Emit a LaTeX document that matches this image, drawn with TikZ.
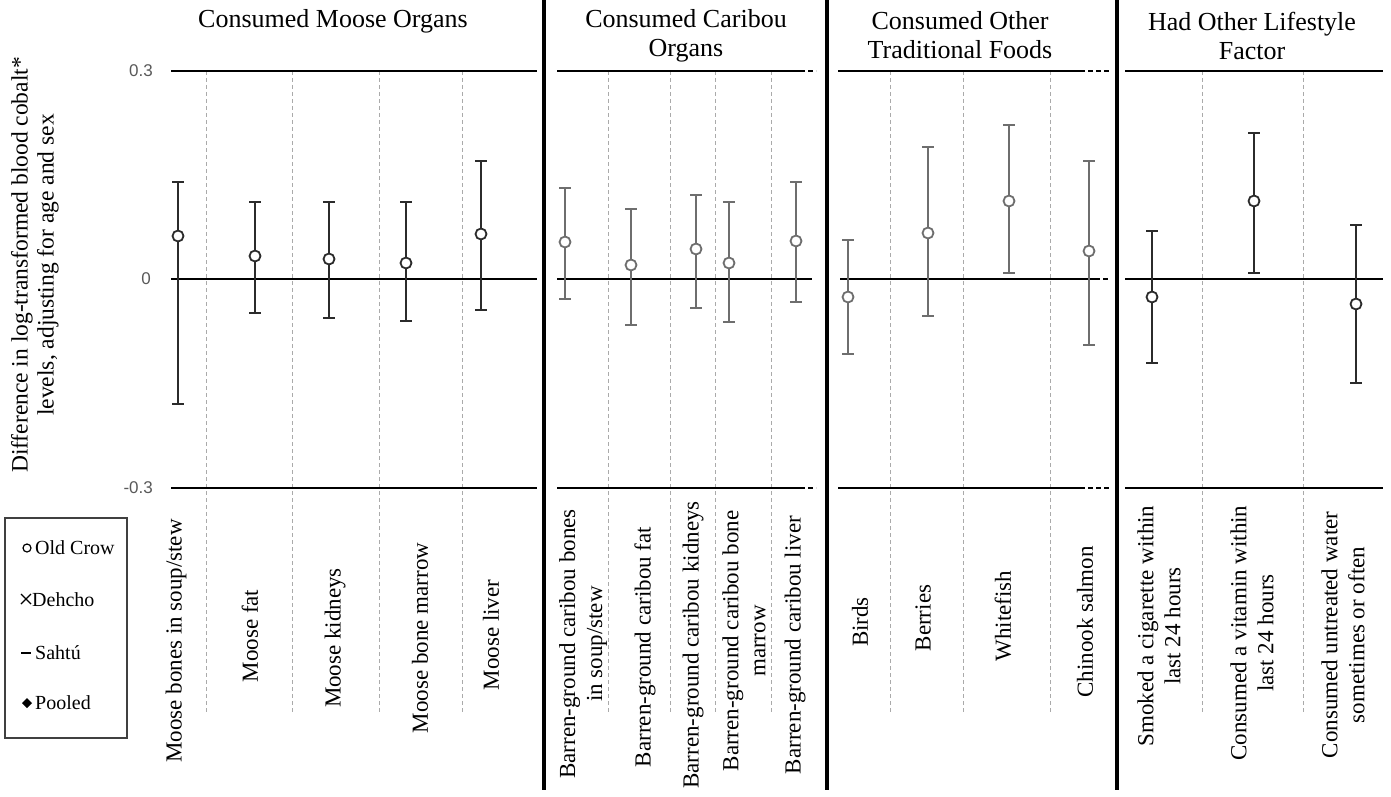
\documentclass[tikz,border=0pt]{standalone}
\usepackage{fontspec}
\setmainfont{Liberation Serif}
\newfontfamily\axisfont{Liberation Sans}
\definecolor{darkbar}{HTML}{2B2B2B}
\definecolor{graybar}{HTML}{6E6E6E}
\definecolor{ticktext}{HTML}{595959}
\definecolor{gridgray}{HTML}{AAAAAA}
\tikzset{
  hline/.style={black, line width=1.6pt},
  hdash/.style={black, line width=1.6pt, dash pattern=on 5pt off 3pt},
  sepline/.style={black, line width=3.4pt},
  vgrid/.style={gridgray, line width=0.9pt, dash pattern=on 4pt off 3pt},
  bar/.style={line width=1.8pt},
  lbl/.style={font=\fontsize{23}{27}\selectfont, rotate=90, align=center, inner sep=0pt},
  head/.style={font=\fontsize{26}{29}\selectfont, align=center, inner sep=0pt},
  tick/.style={font=\axisfont\fontsize{17}{20}\selectfont, text=ticktext, anchor=east, inner sep=0pt},
  legtext/.style={font=\fontsize{20}{22}\selectfont, anchor=west, inner sep=0pt}
}
\newcommand\errbar[5]{%
  \draw[bar,#5] (#1-6,#2) -- (#1+6,#2) (#1,#2) -- (#1,#4) (#1-6,#4) -- (#1+6,#4);
  \draw[bar,#5,fill=white] (#1,#3) circle[radius=5.5];
}
\begin{document}
\begin{tikzpicture}[x=1pt,y=-1pt]
\useasboundingbox (0,0) rectangle (1391,797);

% y-axis label and ticks
\node[font=\fontsize{23.5}{26}\selectfont, rotate=90, align=center, inner sep=0pt] (ylab) at (35,265)
  {Difference in log-transformed blood cobalt*\\levels, adjusting for age and sex};
\node[tick] (t1) at (153,71) {0.3};
\node[tick] (t0) at (151,279) {0};
\node[tick] (t2) at (153,488) {-0.3};

% headers
\node[head] (h1) at (333,21) {Consumed Moose Organs};
\node[head] (h2) at (686,35.5) {Consumed Caribou\\Organs};
\node[head] (h3) at (960,35.5) {Consumed Other\\Traditional Foods};
\node[head] (h4) at (1252,35.5) {Had Other Lifestyle\\Factor};

% dashed vertical grid
\foreach \x in {206,292,379,462,608,670,715,771,890,963,1050,1202,1303}
  \draw[vgrid] (\x,71) -- (\x,712);

% horizontal lines
\foreach \y in {71,279,488} \draw[hline] (171,\y) -- (537,\y);
\draw[hline] (557,71) -- (800,71); \draw[hdash] (800,71) -- (816,71);
\draw[hline] (557,279) -- (812,279);
\draw[hline] (557,488) -- (800,488); \draw[hdash] (800,488) -- (816,488);
\draw[hline] (838,71) -- (1080,71); \draw[hdash] (1080,71) -- (1110,71);
\draw[hline] (840,279) -- (1095,279); \draw[hdash] (1095,279) -- (1110,279);
\draw[hline] (838,488) -- (1080,488); \draw[hdash] (1080,488) -- (1110,488);
\foreach \y in {71,279,488} \draw[hline] (1125,\y) -- (1383,\y);

% thick separators
\foreach \x in {544,827,1117} \draw[sepline] (\x,0) -- (\x,790);

% error bars: x, top, mid, bottom, colour
\errbar{178}{182}{236}{404}{darkbar}
\errbar{255}{202}{256}{313}{darkbar}
\errbar{329}{202}{259}{318}{darkbar}
\errbar{406}{202}{263}{321}{darkbar}
\errbar{481}{161}{234}{310}{darkbar}

\errbar{565}{188}{242}{299}{graybar}
\errbar{631}{209}{265}{325}{graybar}
\errbar{696}{195}{249}{308}{graybar}
\errbar{729}{202}{263}{322}{graybar}
\errbar{796}{182}{241}{302}{graybar}

\errbar{848}{240}{297}{354}{graybar}
\errbar{928}{147}{233}{316}{graybar}
\errbar{1009}{125}{201}{273}{graybar}
\errbar{1089}{161}{251}{345}{graybar}

\errbar{1152}{231}{297}{363}{darkbar}
\errbar{1254}{133}{201}{273}{darkbar}
\errbar{1356}{225}{304}{383}{darkbar}

% category labels
\node[lbl] (c1) at (176,641) {Moose bones in soup/stew};
\node[lbl] (c2) at (250,636) {Moose fat};
\node[lbl] (c3) at (335,638) {Moose kidneys};
\node[lbl] (c4) at (420,638) {Moose bone marrow};
\node[lbl] (c5) at (491,635) {Moose liver};

\node[lbl] (d1) at (583,644) {Barren-ground caribou bones\\in soup/stew};
\node[lbl] (d2) at (645,647) {Barren-ground caribou fat};
\node[lbl] (d3) at (693,645) {Barren-ground caribou kidneys};
\node[lbl] (d4) at (744,641) {Barren-ground caribou bone\\marrow};
\node[lbl] (d5) at (795,645) {Barren-ground caribou liver};

\node[lbl] (e1) at (860,622) {Birds};
\node[lbl] (e2) at (923,618) {Berries};
\node[lbl] (e3) at (1003,616) {Whitefish};
\node[lbl] (e4) at (1085,622) {Chinook salmon};

\node[lbl] (f1) at (1159,626) {Smoked a cigarette within\\last 24 hours};
\node[lbl] (f2) at (1252,633) {Consumed a vitamin within\\last 24 hours};
\node[lbl] (f3) at (1343,635) {Consumed untreated water\\sometimes or often};

% legend
\draw[line width=1.4pt, black!75] (5,518) rectangle (127,738);
\draw[line width=1.2pt] (27,548) circle[radius=4];
\node[legtext] (l1) at (35,548) {Old Crow};
\draw[line width=1.2pt] (21,594) -- (31,604) (21,604) -- (31,594);
\node[legtext] (l2) at (32,600) {Dehcho};
\draw[line width=2pt] (21,653) -- (31,653);
\node[legtext] (l3) at (35,653) {Sahtú};
\fill (27,698) -- (32,703) -- (27,708) -- (22,703) -- cycle;
\node[legtext] (l4) at (35,703) {Pooled};
\end{tikzpicture}
\end{document}
